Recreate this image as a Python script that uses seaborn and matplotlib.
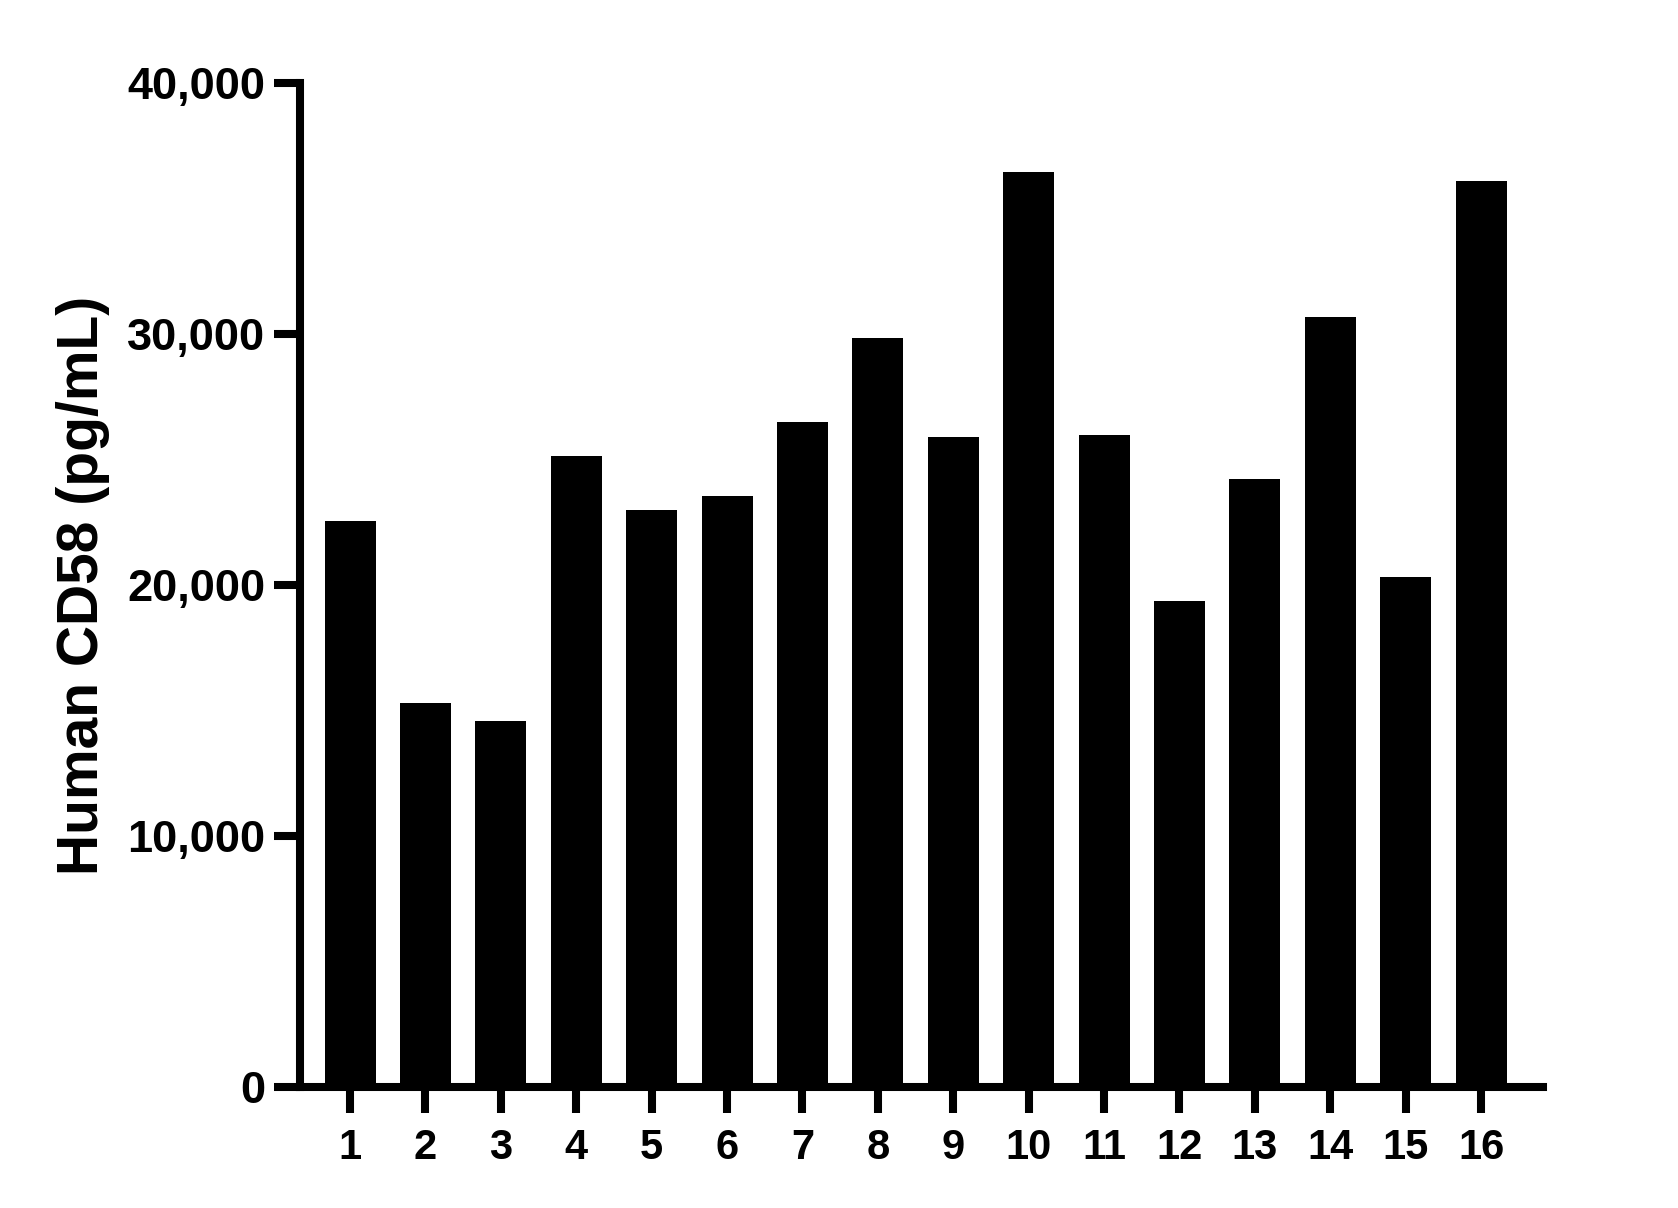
import numpy as np
import pandas as pd
import matplotlib
matplotlib.use('Agg')
import matplotlib.pyplot as plt
import seaborn as sns

# sample numbers and measured CD58 concentration (pg/mL)
samples = ['1', '2', '3', '4', '5', '6', '7', '8',
           '9', '10', '11', '12', '13', '14', '15', '16']
cd58 = [22540, 15300, 14580, 25130, 22985, 23545, 26490, 29845,
        25900, 36460, 25970, 19355, 24220, 30680, 20315, 36095]
y_ticks = [0, 10000, 20000, 30000, 40000]
y_ticklabels = ['0', '10,000', '20,000', '30,000', '40,000']

df = pd.DataFrame({'sample': samples, 'cd58': cd58})

sns.set_style('white')
plt.rcParams['font.family'] = ['Liberation Sans', 'DejaVu Sans']
plt.rcParams['font.weight'] = 'bold'
plt.rcParams['text.color'] = 'black'
plt.rcParams['axes.labelcolor'] = 'black'

fig = plt.figure(figsize=(16.78, 12.08), dpi=100)
ax = fig.add_axes([0.1788, 0.0998, 0.7407, 0.8315])

sns.barplot(data=df, x='sample', y='cd58', order=samples, color='black',
            saturation=1, width=0.676, linewidth=0, ax=ax)

ax.set_xlim(-0.663, 15.82)
ax.set_ylim(0, 40000)
ax.set_yticks(y_ticks)
ax.set_yticklabels(y_ticklabels, fontsize=32.5, fontweight='bold')
ax.set_xticks(range(len(samples)))
ax.set_xticklabels(samples, fontsize=30, fontweight='bold')

sns.despine(ax=ax)
for side in ['left', 'bottom']:
    ax.spines[side].set_linewidth(5.8)
    ax.spines[side].set_color('black')

ax.tick_params(axis='both', which='major', direction='out', width=5.8,
               length=19, color='black', labelcolor='black',
               bottom=True, left=True)
ax.tick_params(axis='y', pad=6)
ax.tick_params(axis='x', pad=10)

ax.set_xlabel('')
ax.set_ylabel('Human CD58 (pg/mL)', fontsize=41, fontweight='bold',
              color='black')
ax.yaxis.set_label_coords(-0.153, 0.5)

fig.savefig('out.png', dpi=100)
